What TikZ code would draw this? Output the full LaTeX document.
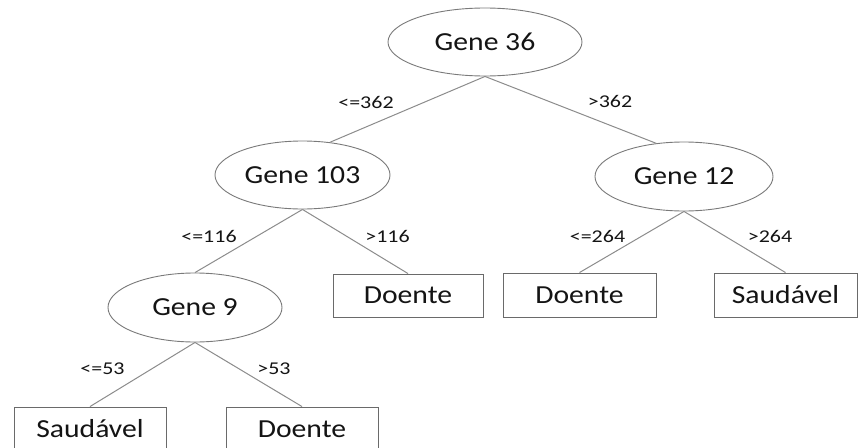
\documentclass[tikz,border=0pt]{standalone}
\usepackage{fontspec}
\setmainfont{Carlito}[FakeStretch=1.14]
\newfontfamily\labfont{Carlito}[FakeStretch=1.22]
\usetikzlibrary{shapes.geometric}
\definecolor{linegray}{HTML}{8C8C8C}
\definecolor{ellgray}{HTML}{7A7A7A}
\definecolor{boxgray}{HTML}{6A6A6A}
\definecolor{txt}{HTML}{141414}
\begin{document}
\begin{tikzpicture}[x=1pt,y=-1pt,
  gene/.style={ellipse, draw=ellgray, line width=0.9pt, inner sep=0pt, fill=white,
    font=\fontsize{26}{30}\selectfont, text=txt},
  leaf/.style={rectangle, draw=boxgray, line width=0.9pt, inner sep=0pt, fill=white,
    font=\fontsize{26}{30}\selectfont, text=txt},
  edge/.style={draw=linegray, line width=1pt},
  lab/.style={font=\labfont\fontsize{18}{21}\selectfont, text=txt, inner sep=0pt}]
\useasboundingbox (0,0) rectangle (859,447);
\clip (0,0) rectangle (859,447);
\fill[white] (0,0) rectangle (859,447);

% nodes
\node[gene, minimum width=194pt, minimum height=68pt] (g36) at (485,42) {Gene 36};
\node[gene, minimum width=175pt, minimum height=68pt] (g103) at (302.5,175) {Gene 103};
\node[gene, minimum width=178pt, minimum height=69pt] (g12) at (684,176.5) {Gene 12};
\node[gene, minimum width=174pt, minimum height=69pt] (g9) at (195,307.5) {Gene 9};
\node[leaf, minimum width=150pt, minimum height=43pt] (d1) at (408,295.5) {Doente};
\node[leaf, minimum width=153pt, minimum height=44pt] (d3) at (579.5,295) {Doente};
\node[leaf, minimum width=143pt, minimum height=44pt] (s2) at (785.5,295) {Saudável};
\node[leaf, minimum width=152pt, minimum height=44pt] (s1) at (90,429) {Saudável};
\node[leaf, minimum width=152pt, minimum height=44pt] (d2) at (302,429) {Doente};

% connectors
\draw[edge] (g36.south) -- (g103.50);
\draw[edge] (g36.south) -- (g12.130);
\draw[edge] (g103.south) -- (g9.north);
\draw[edge] (g103.south) -- (d1.north);
\draw[edge] (g9.south) -- (s1.north);
\draw[edge] (g9.south) -- (d2.north);
\draw[edge] (g12.south) -- (d3.north);
\draw[edge] (g12.south) -- (s2.north);

% labels
\node[lab] (l1) at (366,102) {<=362};
\node[lab] (l2) at (610,101) {>362};
\node[lab] (l3) at (209,236) {<=116};
\node[lab] (l4) at (387.5,236) {>116};
\node[lab] (l5) at (102.5,369) {<=53};
\node[lab] (l6) at (274,369) {>53};
\node[lab] (l7) at (597.5,236) {<=264};
\node[lab] (l8) at (770,236) {>264};
\end{tikzpicture}
\end{document}
